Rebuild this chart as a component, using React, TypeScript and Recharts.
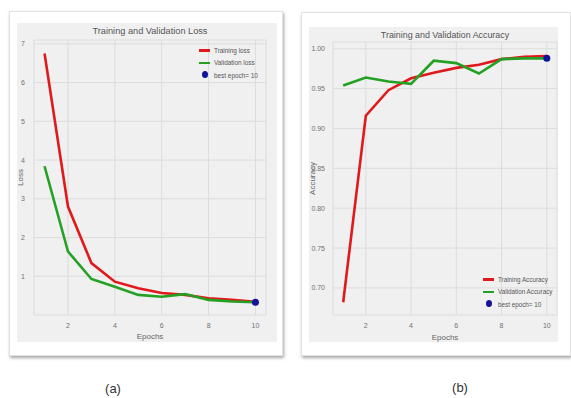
import { ComposedChart, Line, Scatter, XAxis, YAxis, CartesianGrid } from 'recharts';

// epochs 1..10
const epochs = [1, 2, 3, 4, 5, 6, 7, 8, 9, 10];
const trainLoss = [6.75, 2.8, 1.34, 0.86, 0.69, 0.57, 0.52, 0.43, 0.39, 0.34];
const valLoss = [3.84, 1.64, 0.93, 0.73, 0.52, 0.47, 0.54, 0.39, 0.35, 0.33];
const trainAcc = [0.682, 0.916, 0.948, 0.963, 0.970, 0.976, 0.980, 0.987, 0.990, 0.991];
const valAcc = [0.954, 0.964, 0.959, 0.956, 0.985, 0.982, 0.969, 0.987, 0.988, 0.988];
const bestEpoch = 10;

const xTicks = [2, 4, 6, 8, 10];
const lossTicks = [1, 2, 3, 4, 5, 6, 7];
const accTicks = [0.7, 0.75, 0.8, 0.85, 0.9, 0.95, 1.0];

const RED = '#e0191c';
const GREEN = '#24a124';
const BLUE = '#12129a';
const FONT = "'Liberation Sans Narrow', 'Liberation Sans', Arial, sans-serif";

const lossData = epochs.map((e, i) => ({ epoch: e, train: trainLoss[i], val: valLoss[i] }));
const accData = epochs.map((e, i) => ({ epoch: e, train: trainAcc[i], val: valAcc[i] }));
const bestLoss = [{ epoch: bestEpoch, value: valLoss[bestEpoch - 1] }];
const bestAcc = [{ epoch: bestEpoch, value: valAcc[bestEpoch - 1] }];

const tickStyle = { fontSize: 7, fill: '#707070', fontFamily: FONT };
const axisLabel = { fontSize: 8, fill: '#666', fontFamily: FONT };

const LegendBox = ({ labels, left, top, size }: { labels: string[]; left: number; top: number; size: number }) => (
  <div style={{ position: 'absolute', left, top, fontFamily: FONT, fontSize: size, color: '#555', whiteSpace: 'nowrap' }}>
    {labels.map((l, i) => (
      <div key={l} style={{ display: 'flex', alignItems: 'center', height: 12.5 }}>
        {i < 2 ? (
          <span style={{ display: 'inline-block', width: 11, height: 2.5, background: i === 0 ? RED : GREEN, marginRight: 4 }} />
        ) : (
          <span style={{ display: 'inline-block', width: 11, marginRight: 4, textAlign: 'center' }}>
            <span style={{ display: 'inline-block', width: 6, height: 7, borderRadius: '50%', background: BLUE }} />
          </span>
        )}
        {l}
      </div>
    ))}
  </div>
);

const card = (left: number, top: number, w: number, h: number): React.CSSProperties => ({
  position: 'absolute', left, top, width: w, height: h, background: '#fff',
  border: '1px solid #e2e2e2', boxShadow: '1px 2px 3px rgba(0,0,0,0.35)',
});

const dotShape = (p: any) => <circle cx={p.cx} cy={p.cy} r={3.5} fill={BLUE} />;

export default function App() {
  return (
    <div style={{ position: 'absolute', left: 0, top: 0, width: 571, height: 398, background: '#fff', overflow: 'hidden' }}>
      <div style={card(9, 11, 272, 343)} />
      <div style={card(301, 12, 268, 342)} />

      {/* (a) loss */}
      <div style={{ position: 'absolute', left: 17, top: 23, width: 260, height: 319, background: '#f0f0f0' }}>
        <ComposedChart width={260} height={319} data={lossData} margin={{ top: 17, right: 11, left: 0, bottom: 0 }}>
          <CartesianGrid stroke="#dcdcdc" strokeWidth={1} />
          <XAxis dataKey="epoch" type="number" domain={[0.55, 10.45]} ticks={xTicks} height={27}
            axisLine={false} tickLine={false} tickMargin={2} tick={tickStyle}
            label={{ value: 'Epochs', position: 'insideBottom', offset: 3, style: axisLabel }} />
          <YAxis type="number" domain={[0, 7.1]} ticks={lossTicks} width={17} allowDataOverflow
            axisLine={false} tickLine={false} tickMargin={3} tick={tickStyle}
            label={{ value: 'Loss', angle: -90, position: 'insideLeft', offset: 3, style: { ...axisLabel, textAnchor: 'middle' } }} />
          <Line dataKey="train" stroke={RED} strokeWidth={2.6} dot={false} isAnimationActive={false} />
          <Line dataKey="val" stroke={GREEN} strokeWidth={2.6} dot={false} isAnimationActive={false} />
          <Scatter data={bestLoss} dataKey="value" fill={BLUE} isAnimationActive={false} shape={dotShape} />
        </ComposedChart>
        <div style={{ position: 'absolute', left: 0, top: 3, width: 266, textAlign: 'center', fontFamily: FONT, fontSize: 9.2, color: '#555' }}>
          Training and Validation Loss
        </div>
        <LegendBox labels={['Training loss', 'Validation loss', 'best epoch= 10']} left={182} top={21} size={6.4} />
      </div>

      {/* (b) accuracy */}
      <div style={{ position: 'absolute', left: 309, top: 27, width: 249, height: 315, background: '#f0f0f0' }}>
        <ComposedChart width={249} height={315} data={accData} margin={{ top: 15, right: 1, left: 0, bottom: 0 }}>
          <CartesianGrid stroke="#dcdcdc" strokeWidth={1} />
          <XAxis dataKey="epoch" type="number" domain={[0.55, 10.45]} ticks={xTicks} height={27}
            axisLine={false} tickLine={false} tickMargin={2} tick={tickStyle}
            label={{ value: 'Epochs', position: 'insideBottom', offset: 2, style: axisLabel }} />
          <YAxis type="number" domain={[0.666, 1.0085]} ticks={accTicks} width={24} allowDataOverflow
            axisLine={false} tickLine={false} tickMargin={2} tick={tickStyle}
            tickFormatter={(v: number) => v.toFixed(2)}
            label={{ value: 'Accuracy', angle: -90, position: 'insideLeft', offset: 3, style: { ...axisLabel, textAnchor: 'middle' } }} />
          <Line dataKey="train" stroke={RED} strokeWidth={2.6} dot={false} isAnimationActive={false} />
          <Line dataKey="val" stroke={GREEN} strokeWidth={2.6} dot={false} isAnimationActive={false} />
          <Scatter data={bestAcc} dataKey="value" fill={BLUE} isAnimationActive={false} shape={dotShape} />
        </ComposedChart>
        <div style={{ position: 'absolute', left: 0, top: 3, width: 272, textAlign: 'center', fontFamily: FONT, fontSize: 8.9, color: '#555' }}>
          Training and Validation Accuracy
        </div>
        <LegendBox labels={['Training Accuracy', 'Validation Accuracy', 'best epoch= 10']} left={174} top={246} size={6.3} />
      </div>

      <div style={{ position: 'absolute', left: 100, top: 381, width: 26, textAlign: 'center', fontFamily: FONT, fontSize: 13, color: '#333' }}>(a)</div>
      <div style={{ position: 'absolute', left: 447, top: 380, width: 26, textAlign: 'center', fontFamily: FONT, fontSize: 13, color: '#333' }}>(b)</div>
    </div>
  );
}
